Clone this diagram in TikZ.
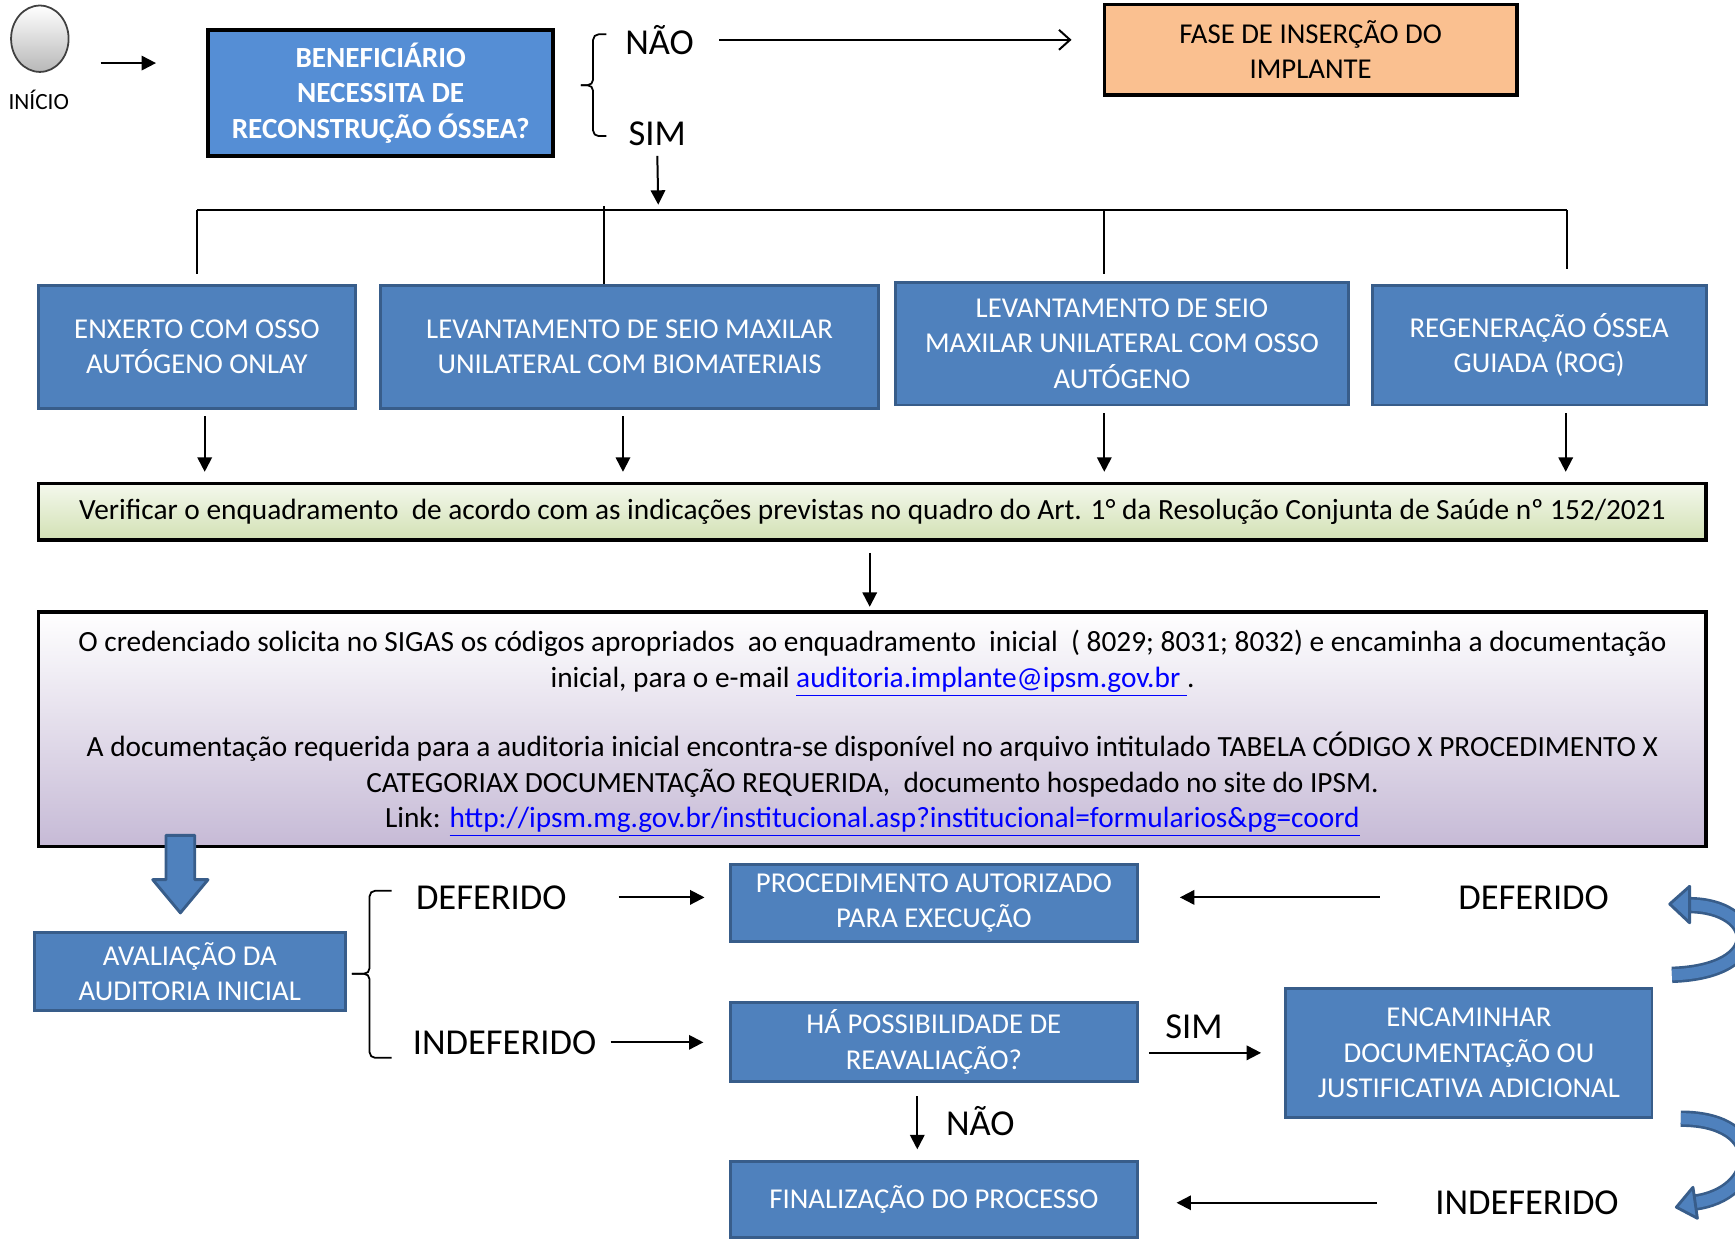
\documentclass[tikz,border=0pt]{standalone}
\usepackage{fontspec}
\setmainfont{Carlito}
\usepackage{tikz}
\usetikzlibrary{arrows.meta,shapes.geometric,calc}
\definecolor{colorq}{RGB}{85,142,213}
\definecolor{colorb}{RGB}{79,129,189}
\definecolor{colorbd}{RGB}{56,93,138}
\definecolor{coloro}{RGB}{250,192,144}
\definecolor{colorgt}{RGB}{244,248,236}
\definecolor{colorgb}{RGB}{210,225,180}
\definecolor{colorpb}{RGB}{198,186,214}
\definecolor{colorlink}{RGB}{0,0,255}
\tikzstyle{blockQ} = [rectangle, text=white, fill=colorq, draw=black, line width=2pt, align=center, font=\fontsize{13.2}{16}\selectfont\bfseries]
\tikzstyle{blockO} = [rectangle, fill=coloro, draw=black, line width=1.6pt, align=center, font=\fontsize{13}{16}\selectfont]
\tikzstyle{blockB} = [rectangle, text=white, fill=colorb, draw=colorbd, line width=1.3pt, align=center, font=\fontsize{13}{16}\selectfont]
\tikzstyle{blockV} = [rectangle, top color=colorgt, bottom color=colorgb, draw=black, line width=1.6pt, font=\fontsize{13.25}{16}\selectfont]
\tikzstyle{blockP} = [rectangle, top color=white, bottom color=colorpb, draw=black, line width=1.6pt, align=center, font=\fontsize{13.25}{16}\selectfont]
\tikzstyle{lbl} = [font=\fontsize{16.5}{20}\selectfont]
\tikzstyle{brc} = [line width=0.8pt, rounded corners=2.5pt]
\tikzstyle{arr} = [-{Triangle[length=6.5pt,width=6.5pt]}, line width=0.9pt]
\tikzstyle{arro} = [-{Straight Barb[length=5pt,width=9pt]}, line width=0.9pt]
\tikzstyle{bigarr} = [fill=colorb, draw=colorbd, line width=1.3pt, line join=round]
\tikzstyle{band} = [draw=colorbd, double=colorb, line width=1.2pt, double distance=5pt]

\begin{document}
\begin{tikzpicture}[x=0.5pt, y=-0.5pt]
  \useasboundingbox (0,0) rectangle (1568,1119);

  % inicio
  \node[ellipse, minimum width=26pt, minimum height=30pt, draw=black!75, line width=0.8pt, top color=white, bottom color=black!28] (inicio) at (36,35) {};
  \node[font=\fontsize{10.5}{12}\selectfont] (inicioT) at (35,90) {INÍCIO};
  \coordinate (s0) at (91,57);
  \coordinate (s1) at (141,57);
  \draw[arr] (s0) -- (s1);

  \node[blockQ, minimum width=156pt, minimum height=57pt] (benef) at (344,84) {BENEFICIÁRIO\\NECESSITA DE\\RECONSTRUÇÃO ÓSSEA?};

  \draw[brc] (548,31) -- (536,31) -- (536,77) -- (525,77);
  \draw[brc] (525,77) -- (536,77) -- (536,123) -- (548,123);
  \node[lbl] (nao1) at (596,36) {NÃO};
  \node[lbl] (sim1) at (594,121) {SIM};

  \node[blockO, minimum width=186.5pt, minimum height=41pt] (fase) at (1184.5,45) {FASE DE INSERÇÃO DO\\IMPLANTE};
  \draw[arro, shorten <=8pt, shorten >=14pt] (nao1.east) -- (nao1.east -| fase.west);

  % distribuicao
  \coordinate (bus) at (595,190);
  \coordinate (busL) at (178,190);
  \coordinate (busR) at (1416,190);
  \coordinate (d2) at (546,186);
  \coordinate (d3) at (998,190);
  \draw[arr, shorten <=1pt, shorten >=2.5pt] (sim1.south) -- (bus);
  \draw[line width=0.8pt] (busL) -- (busR);

  \node[blockB, minimum width=143pt, minimum height=55.5pt] (box1) at (178,313.5) {ENXERTO COM OSSO\\AUTÓGENO ONLAY};
  \node[blockB, minimum width=225pt, minimum height=55.5pt] (box2) at (569,313.5) {LEVANTAMENTO DE SEIO MAXILAR\\UNILATERAL COM BIOMATERIAIS};
  \node[blockB, minimum width=205pt, minimum height=55.5pt] (box3) at (1014,310.5) {LEVANTAMENTO DE SEIO\\MAXILAR UNILATERAL COM OSSO\\AUTÓGENO};
  \node[blockB, minimum width=151pt, minimum height=54pt] (box4) at (1391,312) {REGENERAÇÃO ÓSSEA\\GUIADA (ROG)};

  \draw[line width=0.8pt, shorten >=4.5pt] (busL) -- (busL |- box1.north);
  \draw[line width=0.8pt] (d2) -- (d2 |- box2.north);
  \draw[line width=0.8pt, shorten >=3pt] (d3) -- (d3 |- box3.north);
  \draw[line width=0.8pt, shorten >=7pt] (busR) -- (busR |- box4.north);

  \node[blockV, minimum width=753.5pt, minimum height=25.5pt] (verif) at (788.5,462.5) {Verificar o enquadramento\ \ de acordo com as indicações previstas no quadro do Art. 1° da Resolução Conjunta de Saúde nº 152/2021};

  \coordinate (a1) at (185,0);
  \coordinate (a2) at (563,0);
  \coordinate (a3) at (998,0);
  \coordinate (a4) at (1415,0);
  \foreach \b/\a in {box1/a1, box2/a2, box3/a3, box4/a4}
  \draw[arr, shorten <=3pt, shorten >=4.5pt] (\b.south -| \a) -- (verif.north -| \a);

  \node[blockP, minimum width=753.5pt, minimum height=106pt] (docs) at (788.5,659) {};
  \node[font=\fontsize{13.25}{16}\selectfont, align=center] (docsT) at (788.5,663) {O credenciado solicita no SIGAS os códigos apropriados\ \ ao enquadramento\ \ inicial\ \ ( 8029; 8031; 8032) e encaminha a documentação\\inicial, para o e-mail \textcolor{colorlink}{\underline{auditoria.implante@ipsm.gov.br }}.\\[15.5pt]A documentação requerida para a auditoria inicial encontra-se disponível no arquivo intitulado TABELA CÓDIGO X PROCEDIMENTO X\\CATEGORIAX DOCUMENTAÇÃO REQUERIDA,\ \ documento hospedado no site do IPSM.\\Link: \textcolor{colorlink}{\underline{http://ipsm.mg.gov.br/institucional.asp?institucional=formularios\&pg=coord}}};

  \coordinate (vc) at (786,0);
  \draw[arr, shorten <=5pt, shorten >=1.5pt] (verif.south -| vc) -- (docs.north -| vc);

  % auditoria
  \draw[bigarr] (150,755) -- (176,755) -- (176,795) -- (188,795) -- (163,825) -- (138,795) -- (150,795) -- cycle;
  \node[blockB, minimum width=140.5pt, minimum height=35pt] (aval) at (171.5,878) {AVALIAÇÃO DA\\AUDITORIA INICIAL};

  \draw[brc] (354,805) -- (334,805) -- (334,880) -- (318,880);
  \draw[brc] (318,880) -- (334,880) -- (334,956) -- (354,956);
  \node[lbl] (def1) at (444,811) {DEFERIDO};
  \node[lbl] (indef1) at (456,942) {INDEFERIDO};

  \node[blockB, minimum width=184pt, minimum height=35pt] (proc) at (844,816) {PROCEDIMENTO AUTORIZADO\\PARA EXECUÇÃO};
  \node[blockB, minimum width=184pt, minimum height=34.5pt] (reav) at (844,941.5) {HÁ POSSIBILIDADE DE\\REAVALIAÇÃO?};
  \node[blockB, minimum width=184pt, minimum height=34pt] (fim) at (844,1084) {FINALIZAÇÃO DO PROCESSO};
  \node[blockB, minimum width=165.5pt, minimum height=58.5pt] (enc) at (1327.5,951.5) {ENCAMINHAR\\DOCUMENTAÇÃO OU\\JUSTIFICATIVA ADICIONAL};

  \node[lbl] (def2) at (1386,811) {DEFERIDO};
  \node[lbl] (indef2) at (1380,1087) {INDEFERIDO};
  \node[lbl] (sim2) at (1079,928) {SIM};
  \node[lbl] (nao2) at (886,1013) {NÃO};

  \draw[arr, shorten <=20pt, shorten >=11pt] (def1.east) -- (def1.east -| proc.west);
  \draw[arr, shorten <=3pt, shorten >=11.5pt] (indef1.east) -- (indef1.east -| reav.west);
  \draw[arr, shorten <=32pt, shorten >=18.5pt] (def2.west) -- (def2.west -| proc.east);
  \draw[arr, shorten <=4.5pt, shorten >=10.5pt] (reav.east |- enc) -- (enc.west);
  \coordinate (nx) at (829,0);
  \draw[arr, shorten <=6pt, shorten >=5pt] (reav.south -| nx) -- (fim.north -| nx);
  \draw[arr, shorten <=23pt, shorten >=17pt] (indef2.west) -- (indef2.west -| fim.east);

  % setas curvas
  \draw[band] (1511,881) .. controls (1600,878) and (1590,818) .. (1526,818);
  \draw[bigarr] (1527,801) -- (1509,817) -- (1527,834) -- cycle;
  \draw[band] (1519,1011) .. controls (1600,1011) and (1592,1080) .. (1530,1087);
  \draw[bigarr] (1530,1073) -- (1515,1091) -- (1534,1101) -- cycle;
\end{tikzpicture}
\end{document}
